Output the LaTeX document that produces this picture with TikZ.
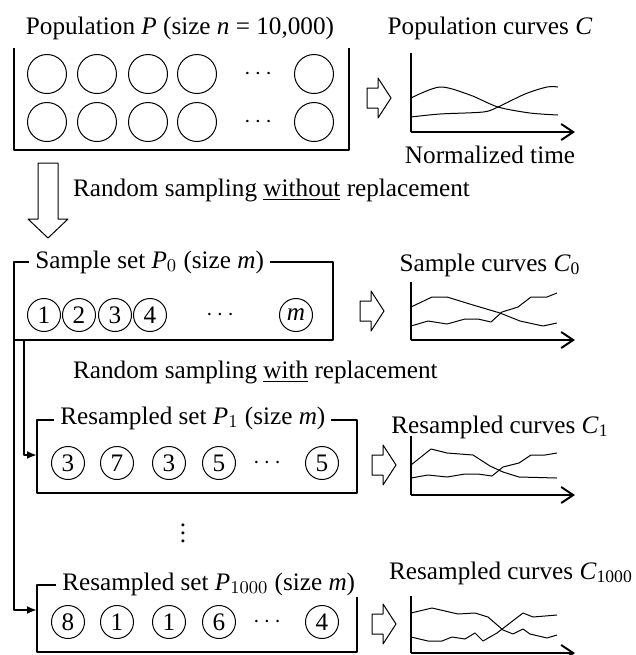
\documentclass[tikz,border=0pt]{standalone}
\usepackage{fontspec}
\setmainfont{Liberation Serif}
\usetikzlibrary{arrows.meta}

% hollow block arrows, drawn from their left end
\newcommand{\fatarrow}[2]{%
  \draw[hollow,shift={(#1,#2)}] (0,-10) -- (11,-10) -- (11,-20) -- (24,0)
    -- (11,20) -- (11,10) -- (0,10) -- cycle;}

\begin{document}
\begin{tikzpicture}[x=0.5pt,y=-0.5pt,font=\fontsize{12.6}{15}\selectfont,line join=round,
  box/.style={line width=0.75pt},
  item/.style={draw,circle,line width=0.5pt,inner sep=0pt,minimum size=16.5pt},
  bigitem/.style={item,minimum size=19.5pt},
  tag/.style={fill=white,inner xsep=3pt,inner ysep=1pt,anchor=west},
  hollow/.style={draw,line width=0.5pt,fill=white},
  link/.style={line width=1pt,-{Latex[length=5pt,width=4pt]}},
  axis/.style={line width=1pt,-{Straight Barb[length=6pt,width=8pt]}},
  curve/.style={line width=0.5pt}]
  \useasboundingbox (0,0) rectangle (636,655);

  % population
  \node (poptitle) at (180,28) {Population \textit{P} (size \textit{n} = 10,000)};
  \draw[box] (14,48) -- (14,150) -- (349,150) -- (349,48);
  \foreach \x in {47,97,148,197,314}
    \foreach \y in {74,122}
      \node[bigitem] (p-\x-\y) at (\x,\y) {};
  \node (pdots1) at (258,74) {$\cdots$};
  \node (pdots2) at (258,122) {$\cdots$};

  \node (popcurves) at (490,28) {Population curves \textit{C}};
  \fatarrow{367}{98}
  \draw[line width=0.75pt] (411,53) -- (411,132);
  \draw[axis] (411,132) -- (575,132);
  \draw[curve] plot[smooth] coordinates {(411,98) (440,87) (470,95) (498,107) (530,113) (558,115)};
  \draw[curve] plot[smooth] coordinates {(411,117) (440,114) (483,112) (498,107) (525,94) (547,87) (558,87)};
  \node (timelbl) at (490,155) {Normalized time};

  % sampling without replacement
  \draw[hollow,shift={(48,163)}] (-10,0) -- (10,0) -- (10,56) -- (20,56)
    -- (0,75) -- (-20,56) -- (-10,56) -- cycle;
  \node[anchor=west] (norepl) at (66,190) {Random sampling \underline{without} replacement};

  % sample set
  \draw[box] (14,262) rectangle (333,340);
  \node[tag] (s0tag) at (29,262) {Sample set \textit{P}$_0$ (size \textit{m})};
  \foreach \x/\t in {44/1,79/2,115/3,150/4,296/\textit{m}}
    \node[item] (s-\x) at (\x,315) {\t};
  \node (sdots) at (220,315) {$\cdots$};

  \node (s0curves) at (490,265) {Sample curves \textit{C}\textsubscript{0}};
  \fatarrow{360}{311}
  \draw[line width=0.75pt] (411,282) -- (411,340);
  \draw[axis] (411,340) -- (575,340);
  \draw[curve] (411,307) -- (432,297) -- (447,297) -- (473,305) -- (500,313)
    -- (520,321) -- (543,326) -- (557,323);
  \draw[curve] (411,326) -- (428,321) -- (447,324) -- (465,319) -- (478,319)
    -- (491,322) -- (502,312) -- (518,307) -- (531,297) -- (547,297) -- (557,293);

  % sampling with replacement
  \node[anchor=west] (withrepl) at (66,372) {Random sampling \underline{with} replacement};
  \coordinate (fork1) at (24,340);
  \coordinate (fork2) at (14,340);
  \coordinate (r1in) at (37,455);
  \coordinate (rNin) at (37,610);
  \draw[link] (fork1) |- (r1in);
  \draw[link] (fork2) |- (rNin);

  % resampled set 1
  \draw[box] (37,420) rectangle (357,493);
  \node[tag] (r1tag) at (54,418) {Resampled set \textit{P}$_1$ (size \textit{m})};
  \foreach \x/\t in {68/3,117/7,169/3,219/5,322/5}
    \node[item] (ra-\x) at (\x,463) {\t};
  \node (radots) at (267,463) {$\cdots$};

  \node (r1curves) at (500,427) {Resampled curves \textit{C}\textsubscript{1}};
  \fatarrow{372}{465}
  \draw[line width=0.75pt] (411,436) -- (411,495);
  \draw[axis] (411,495) -- (575,495);
  \draw[curve] (411,465) -- (431,449) -- (447,453) -- (473,455) -- (490,466)
    -- (503,472) -- (519,477) -- (557,478);
  \draw[curve] (411,478) -- (428,475) -- (447,477) -- (465,474) -- (478,474)
    -- (492,476) -- (503,467) -- (519,463) -- (531,455) -- (545,455) -- (557,453);

  \node (vdots) at (183,527) {$\vdots$};

  % resampled set 1000
  \draw[box] (37,585) rectangle (357,652);
  \node[tag] (rNtag) at (56,584) {Resampled set \textit{P}$_{1000}$ (size \textit{m})};
  \foreach \x/\t in {68/8,117/1,169/1,219/6,322/4}
    \node[item] (rb-\x) at (\x,622) {\t};
  \node (rbdots) at (267,622) {$\cdots$};

  \node (rNcurves) at (511,573) {Resampled curves \textit{C}\textsubscript{1000}};
  \fatarrow{372}{624}
  \draw[line width=0.75pt] (411,596) -- (411,653);
  \draw[axis] (411,653) -- (575,653);
  \draw[curve] (411,613) -- (432,608) -- (458,614) -- (475,613) -- (488,617)
    -- (503,630) -- (513,634) -- (523,629) -- (530,634) -- (547,638) -- (557,635);
  \draw[curve] (411,637) -- (428,641) -- (442,641) -- (452,637) -- (465,639)
    -- (475,633) -- (483,641) -- (497,633) -- (510,623) -- (523,613) -- (533,617) -- (557,615);
\end{tikzpicture}
\end{document}
